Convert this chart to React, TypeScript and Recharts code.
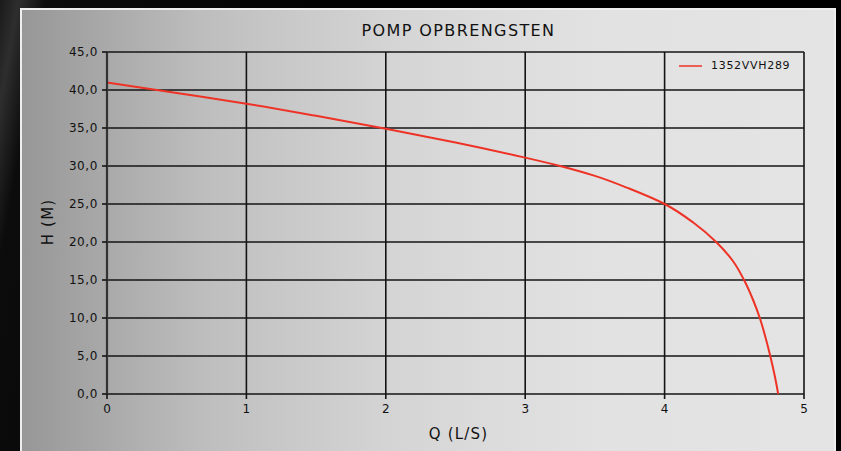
import React from 'react'
import { LineChart, Line, XAxis, YAxis, CartesianGrid } from 'recharts'

// pump curve: flow Q (L/s) vs head H (m)
const flowValues = [0, 0.5, 1, 1.5, 2, 2.5, 3, 3.25, 3.5, 3.75, 4, 4.21, 4.37, 4.49, 4.57, 4.632, 4.683, 4.723, 4.758, 4.789, 4.815]
const headValues = [41, 39.6, 38.2, 36.6, 34.9, 33.1, 31.1, 30, 28.7, 27, 25, 22.5, 20, 17.5, 15, 12.5, 10, 7.5, 5, 2.5, 0]
const xTicks = [0, 1, 2, 3, 4, 5]
const yTicks = [0, 5, 10, 15, 20, 25, 30, 35, 40, 45]
const seriesName = '1352VVH289'
const chartTitle = 'POMP OPBRENGSTEN'
const xTitle = 'Q (L/S)'
const yTitle = 'H (M)'

const data = flowValues.map((q, i) => ({ q, h: headValues[i] }))

const FONT = '"DejaVu Sans", sans-serif'
const RED = '#ee3326'

function LegendBox() {
  return (
    <div
      style={{
        position: 'absolute',
        left: 679,
        top: 59,
        display: 'flex',
        alignItems: 'center',
        fontFamily: FONT,
        fontSize: 11,
        letterSpacing: 0.7,
        color: '#111',
      }}
    >
      <svg width={24} height={4} style={{ marginRight: 8 }}>
        <line x1={0} y1={2} x2={23} y2={2} stroke={RED} strokeWidth={1.5} />
      </svg>
      <span>{seriesName}</span>
    </div>
  )
}

export default function App() {
  return (
    <div
      style={{
        position: 'fixed',
        left: 0,
        top: 0,
        width: 841,
        height: 451,
        overflow: 'hidden',
        background: 'linear-gradient(100deg, #1a1a1a 0%, #2e2e2e 2%, #0c0c0c 5%, #000 40%, #000 100%)',
      }}
    >
      <div
        style={{
          position: 'absolute',
          left: 20,
          top: 8,
          width: 812,
          height: 450,
          border: '2px solid #eeeeee',
          background:
            'linear-gradient(90deg, #979797 0%, #acacac 12%, #bdbdbd 22%, #c6c6c6 30%, #d4d4d4 45%, #dcdcdc 58%, #e2e2e2 72%, #e4e4e4 100%)',
        }}
      />
      <div
        style={{
          position: 'absolute',
          left: 0,
          width: 841,
          top: 21,
          textAlign: 'center',
          paddingLeft: 76,
          boxSizing: 'border-box',
          fontFamily: FONT,
          fontSize: 16,
          letterSpacing: 1.4,
          color: '#111',
        }}
      >
        {chartTitle}
      </div>
      <div
        style={{
          position: 'absolute',
          left: 0,
          width: 841,
          top: 425,
          textAlign: 'center',
          paddingLeft: 76,
          boxSizing: 'border-box',
          fontFamily: FONT,
          fontSize: 15,
          letterSpacing: 1.2,
          color: '#111',
        }}
      >
        {xTitle}
      </div>
      <div
        style={{
          position: 'absolute',
          left: 48,
          top: 222,
          transform: 'translate(-50%, -50%) rotate(-90deg)',
          fontFamily: FONT,
          fontSize: 15,
          letterSpacing: 1.2,
          whiteSpace: 'nowrap',
          color: '#111',
        }}
      >
        {yTitle}
      </div>
      <div style={{ position: 'absolute', left: 0, top: 0 }}>
        <LineChart width={841} height={451} data={data} margin={{ top: 52, right: 37, left: 0, bottom: 27 }}>
          <CartesianGrid stroke="#141414" strokeWidth={1.6} />
          <XAxis
            dataKey="q"
            type="number"
            domain={[0, 5]}
            ticks={xTicks}
            height={30}
            axisLine={false}
            tickLine={{ stroke: '#141414', strokeWidth: 1.6 }}
            tickSize={5}
            tickMargin={5}
            tick={{ fill: '#111', fontSize: 12, fontFamily: FONT }}
          />
          <YAxis
            type="number"
            domain={[0, 45]}
            ticks={yTicks}
            width={107}
            axisLine={{ stroke: '#333', strokeWidth: 2.2 }}
            tickLine={{ stroke: '#141414', strokeWidth: 1.6 }}
            tickSize={5}
            tickMargin={4}
            tickFormatter={(v: number) => v.toFixed(1).replace('.', ',')}
            tick={{ fill: '#111', fontSize: 12, fontFamily: FONT, letterSpacing: 0.6 }}
          />
          <Line
            type="monotoneY"
            dataKey="h"
            name={seriesName}
            stroke={RED}
            strokeWidth={2}
            dot={false}
            isAnimationActive={false}
          />
        </LineChart>
      </div>
      <LegendBox />
    </div>
  )
}
